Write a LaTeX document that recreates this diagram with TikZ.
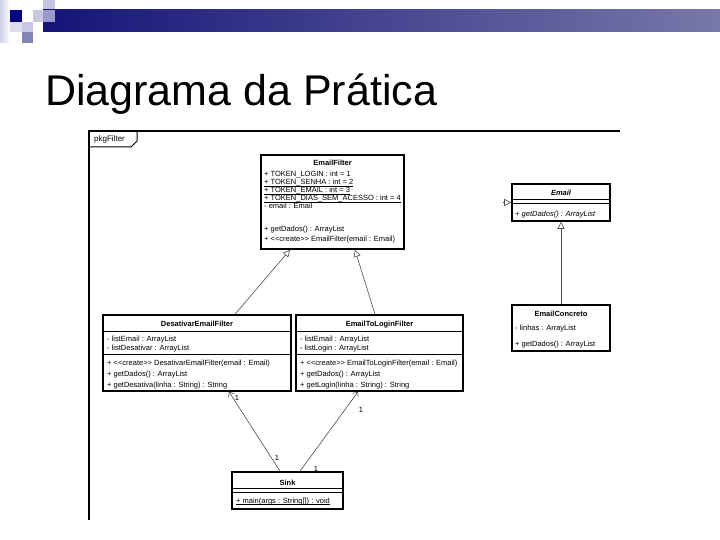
\documentclass[tikz,border=0pt]{standalone}
\usepackage{fontspec}
\setmainfont{Liberation Sans}
\usetikzlibrary{arrows.meta}
\definecolor{deco1}{RGB}{208,208,232}
\definecolor{deco2}{RGB}{220,220,238}
\definecolor{deconavy}{RGB}{0,0,128}
\definecolor{deco3}{RGB}{200,200,224}
\definecolor{deco4}{RGB}{196,196,222}
\definecolor{barleft}{RGB}{20,20,120}
\definecolor{barright}{RGB}{120,120,170}
\definecolor{deco5}{RGB}{154,154,203}
\definecolor{deco6}{RGB}{200,200,228}
\definecolor{deco7}{RGB}{132,132,184}
\newcommand{\staticmember}[1]{\underline{\smash{#1}}}

\begin{document}
\begin{tikzpicture}[x=1pt, y=-1pt,
      every node/.style = {inner sep=0pt, font=\fontsize{7.5}{9}\selectfont},
      classbox/.style = {draw, line width=1.6pt, fill=white},
      cname/.style = {anchor=base, font=\fontsize{7.5}{9}\selectfont\bfseries},
      member/.style = {anchor=base west},
      sepline/.style = {line width=0.7pt},
      gen/.style = {draw=black!70, line width=0.6pt,
        -{Triangle[open, length=7pt, width=7pt]}},
      nav/.style = {draw=black!70, line width=0.6pt,
        -{Straight Barb[length=4pt, width=7pt]}}]
  \useasboundingbox (0,0) rectangle (720,540);

  % slide decoration
  \shade[left color=deco1, right color=white] (0,0) rectangle (10,43);
  \fill[deco2] (10,22) rectangle (22,32);
  \fill[deconavy] (10,10) rectangle (22,22);
  \fill[deco3] (33,10) rectangle (43,22);
  \fill[deco4] (43,0) rectangle (55,10);
  \shade[left color=barleft, right color=barright] (43,10) rectangle (720,32);
  \fill[deco5] (43,10) rectangle (55,22);
  \fill[deco6] (22,22) rectangle (33,32);
  \fill[deco7] (22,32) rectangle (33,43);
  \node[anchor=base west, font=\fontsize{43}{50}\selectfont] (title) at (45,106) {Diagrama da Prática};

  % package frame
  \draw[line width=1.2pt] (620,131) -- (89,131) -- (89,520);
  \draw[line width=1pt] (89,147) -- (131,147) -- (137,141) -- (137,131);
  \node[anchor=base west, font=\fontsize{8}{9}\selectfont] (pkg) at (94,142) {pkgFilter};

  % EmailFilter
  \node[classbox, minimum width=143pt, minimum height=94pt] (emailfilter) at (332.5,202) {};
  \node[cname] (emailfilter-name) at (332.5,166) {EmailFilter};
  \foreach \m [count=\i from 0] in {{+ TOKEN\_LOGIN : int = 1},
      {\staticmember{+ TOKEN\_SENHA : int = 2}}, {\staticmember{+ TOKEN\_EMAIL : int = 3}},
      {\staticmember{+ TOKEN\_DIAS\_SEM\_ACESSO : int = 4}}, {- email : Email}}
    \node[member] (emailfilter-a\i) at (264,177+8*\i) {\m};
  \foreach \m [count=\i from 0] in {{+ getDados() : ArrayList},
      {+ {<}{<}create{>}{>} EmailFilter(email : Email)}}
    \node[member] (emailfilter-m\i) at (264,231+10*\i) {\m};

  % Email
  \node[classbox, minimum width=98pt, minimum height=37pt] (email) at (561,202.5) {};
  \node[cname, font=\fontsize{7.5}{9}\selectfont\bfseries\itshape] (email-name) at (561,196) {Email};
  \draw[sepline] (512,199) -- (610,199);
  \draw[sepline] (512,203) -- (610,203);
  \node[member, font=\fontsize{7.5}{9}\selectfont\itshape] (email-m0) at (515,216) {+ getDados() : ArrayList};

  % EmailConcreto
  \node[classbox, minimum width=98pt, minimum height=46pt] (concreto) at (561,328) {};
  \node[cname] (concreto-name) at (561,316) {EmailConcreto};
  \node[member] (concreto-a0) at (515,330) {- linhas : ArrayList};
  \node[member] (concreto-m0) at (515,346) {+ getDados() : ArrayList};

  % DesativarEmailFilter
  \node[classbox, minimum width=188pt, minimum height=76pt] (desativar) at (197,353) {};
  \node[cname] (desativar-name) at (197,326) {DesativarEmailFilter};
  \draw[sepline] (103,331) -- (291,331);
  \draw[sepline] (103,354) -- (291,354);
  \foreach \m [count=\i from 0] in {{- listEmail : ArrayList}, {- listDesativar : ArrayList}}
    \node[member] (desativar-a\i) at (107,341+9*\i) {\m};
  \foreach \m [count=\i from 0] in {{+ {<}{<}create{>}{>} DesativarEmailFilter(email : Email)},
      {+ getDados() : ArrayList}, {+ getDesativa(linha : String) : String}}
    \node[member] (desativar-m\i) at (107,365+11*\i) {\m};

  % EmailToLoginFilter
  \node[classbox, minimum width=167pt, minimum height=76pt] (tologin) at (379.5,353) {};
  \node[cname] (tologin-name) at (379.5,326) {EmailToLoginFilter};
  \draw[sepline] (296,331) -- (463,331);
  \draw[sepline] (296,354) -- (463,354);
  \foreach \m [count=\i from 0] in {{- listEmail : ArrayList}, {- listLogin : ArrayList}}
    \node[member] (tologin-a\i) at (300,341+9*\i) {\m};
  \foreach \m [count=\i from 0] in {{+ {<}{<}create{>}{>} EmailToLoginFilter(email : Email)},
      {+ getDados() : ArrayList}, {+ getLogin(linha : String) : String}}
    \node[member] (tologin-m\i) at (300,365+11*\i) {\m};

  % Sink
  \node[classbox, minimum width=111pt, minimum height=37pt] (sink) at (287.5,490.5) {};
  \node[cname] (sink-name) at (287.5,485) {Sink};
  \draw[sepline] (232,488) -- (343,488);
  \draw[sepline] (232,492) -- (343,492);
  \node[member] (sink-m0) at (236,503) {\staticmember{+ main(args : String[]) : void}};

  % connectors
  \draw[gen] ([xshift=38pt]desativar.north) -- ([xshift=-42.5pt]emailfilter.south);
  \draw[gen] ([xshift=-4.5pt]tologin.north) -- ([xshift=22.5pt]emailfilter.south);
  \draw[gen] (concreto.north) -- (email.south);
  \coordinate (stubend) at (503,202.5);
  \draw[gen] (stubend) -- (email.west);
  \draw[nav] ([xshift=-7.5pt]sink.north) -- ([xshift=32pt]desativar.south);
  \draw[nav] ([xshift=12.5pt]sink.north) -- ([xshift=-21.5pt]tologin.south);
  \node (m1) at (237,398) {1};
  \node (m2) at (277,458) {1};
  \node (m3) at (361,410) {1};
  \node (m4) at (316,469) {1};
\end{tikzpicture}
\end{document}
